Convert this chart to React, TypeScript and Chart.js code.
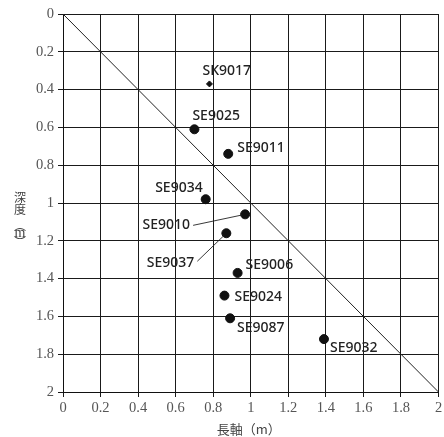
import React, { useEffect, useRef } from "react";
import { Chart, registerables } from "chart.js";

Chart.register(...registerables);

const names = ["SK9017", "SE9025", "SE9011", "SE9034", "SE9010", "SE9037", "SE9006", "SE9024", "SE9087", "SE9032"];
const longAxis = [0.78, 0.70, 0.88, 0.76, 0.97, 0.87, 0.93, 0.86, 0.89, 1.39];
const depth = [0.37, 0.61, 0.74, 0.98, 1.06, 1.16, 1.37, 1.49, 1.61, 1.72];
const tickValues = [0, 0.2, 0.4, 0.6, 0.8, 1, 1.2, 1.4, 1.6, 1.8, 2];
const tickLabels = ["0", "0.2", "0.4", "0.6", "0.8", "1", "1.2", "1.4", "1.6", "1.8", "2"];
const diagX = [0, 2];
const diagY = [0, 2];
const xTitle = "長軸（m）";
const yTitleChars = ["深", "度", "︵", "m", "︶"];

// label placement: [dx, dy, align, leaderLine]
const labelPlace: [number, number, CanvasTextAlign, boolean][] = [
  [-7, -13, "left", false],
  [-2, -13, "left", false],
  [9, -6, "left", false],
  [-3, -11, "right", false],
  [-55, 11, "right", true],
  [-32, 30, "right", true],
  [8, -8, "left", false],
  [10, 1, "left", false],
  [7, 10, "left", false],
  [6, 9, "left", false],
];

const labelsPlugin = {
  id: "labelsPlugin",
  afterDatasetsDraw(chart: any) {
    const ctx = chart.ctx;
    const xs = chart.scales.x;
    const ys = chart.scales.y;
    ctx.save();
    ctx.font = "500 14px 'Noto Sans', sans-serif";
    ctx.fillStyle = "#222";
    ctx.strokeStyle = "#222";
    ctx.lineWidth = 0.9;
    ctx.textBaseline = "middle";
    names.forEach((n, i) => {
      const px = xs.getPixelForValue(longAxis[i]);
      const py = ys.getPixelForValue(depth[i]);
      const [dx, dy, align, leader] = labelPlace[i];
      const tx = px + dx;
      const ty = py + dy;
      ctx.textAlign = align;
      ctx.fillText(n, tx, ty);
      if (leader) {
        const sx = tx + 3;
        const sy = i === 5 ? ty - 2 : ty;
        const ang = Math.atan2(py - sy, px - sx);
        ctx.beginPath();
        ctx.moveTo(sx, sy);
        ctx.lineTo(px - Math.cos(ang) * 3, py - Math.sin(ang) * 3);
        ctx.stroke();
      }
    });
    // axis titles
    const ca = chart.chartArea;
    ctx.fillStyle = "#444";
    ctx.textAlign = "center";
    ctx.font = "13px 'Noto Sans CJK JP', serif";
    ctx.fillText(xTitle, (ca.left + ca.right) / 2 - 2, 429);
    const yOffsets = [-6, 6, 22, 30, 39];
    const cy = (ca.top + ca.bottom) / 2;
    yTitleChars.forEach((c, i) => {
      ctx.font = c === "m" ? "14px 'Liberation Serif', serif" : "12px 'Noto Sans CJK JP', sans-serif";
      ctx.fillText(c, 20, cy + yOffsets[i]);
    });
    ctx.restore();
  },
};

export default function App() {
  const ref = useRef<HTMLCanvasElement>(null);
  useEffect(() => {
    const canvas = ref.current!;
    const tickFont = { family: "'Liberation Serif', serif", size: 14.5 };
    const chart = new Chart(canvas, {
      type: "scatter",
      data: {
        datasets: [
          {
            type: "line",
            data: diagX.map((x, i) => ({ x, y: diagY[i] })),
            borderColor: "#222",
            borderWidth: 1,
            pointRadius: 0,
            fill: false,
          } as any,
          {
            data: longAxis.map((x, i) => ({ x, y: depth[i] })),
            backgroundColor: "#111",
            borderColor: "#111",
            pointRadius: names.map((n) => (n === "SK9017" ? 3 : 4.5)),
            pointStyle: names.map((n) => (n === "SK9017" ? "rectRot" : "circle")) as any,
          },
        ],
      },
      options: {
        animation: false,
        responsive: false,
        layout: { padding: { top: 14, right: 3, left: 0, bottom: 0 } },
        plugins: { legend: { display: false }, tooltip: { enabled: false } },
        scales: {
          x: {
            type: "linear",
            min: 0,
            max: 2,
            afterBuildTicks: (s: any) => {
              s.ticks = tickValues.map((v) => ({ value: v }));
            },
            afterFit: (s: any) => {
              s.height = 45;
              s.paddingLeft = 0;
              s.paddingRight = 0;
            },
            ticks: {
              callback: (v: any) => tickLabels[tickValues.indexOf(Number(v))] ?? "",
              font: tickFont,
              color: "#555",
              padding: 2,
              maxRotation: 0,
            },
            grid: { color: "#1a1a1a", lineWidth: 1, tickLength: 5, tickColor: "#1a1a1a" },
            border: { color: "#111", width: 1 },
          },
          y: {
            type: "linear",
            reverse: true,
            min: 0,
            max: 2,
            afterBuildTicks: (s: any) => {
              s.ticks = tickValues.map((v) => ({ value: v }));
            },
            afterFit: (s: any) => {
              s.width = 63;
              s.paddingTop = 0;
              s.paddingBottom = 0;
            },
            ticks: {
              callback: (v: any) => tickLabels[tickValues.indexOf(Number(v))] ?? "",
              font: tickFont,
              color: "#555",
              padding: 4,
            },
            grid: { color: "#1a1a1a", lineWidth: 1, tickLength: 5, tickColor: "#1a1a1a" },
            border: { color: "#111", width: 1 },
          },
        },
      },
      plugins: [labelsPlugin],
    });
    return () => chart.destroy();
  }, []);
  return (
    <div style={{ position: "absolute", left: 0, top: 0, width: 444, height: 437, background: "#fff" }}>
      <canvas ref={ref} width={444} height={437} />
    </div>
  );
}
